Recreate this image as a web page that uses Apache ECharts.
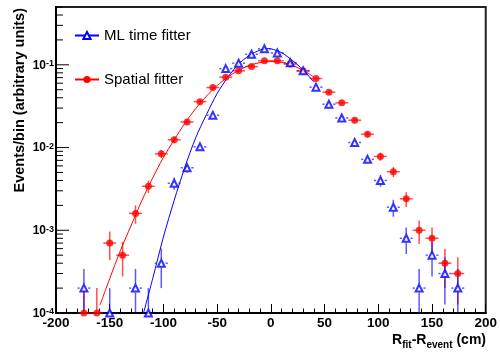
<!DOCTYPE html>
<html>
<head>
<meta charset="utf-8">
<script src="https://cdn.jsdelivr.net/npm/echarts@6/dist/echarts.min.js"></script>
<style>
html,body{margin:0;padding:0;background:#ffffff;}
#chart{width:500px;height:353px;}
</style>
</head>
<body>
<div id="chart"></div>
<script>
// ---------------- data ----------------
const binCenters = [-174,-162,-150,-138,-126,-114,-102,-90,-78,-66,-54,-42,-30,-18,-6,6,18,30,42,54,66,78,90,102,114,126,138,150,162,174];
const binHalfWidth = 6;

// Spatial fitter (red filled circles)
const spatialValues = [0.0001,0.0001,0.0007,0.0005,0.0016,0.0034,0.0084,0.0124,0.0204,0.0359,0.0531,0.0710,0.0846,0.0953,0.1117,0.1117,0.1020,0.0840,0.0683,0.0467,0.0347,0.0214,0.0145,0.0078,0.0051,0.0024,0.0010,0.0008,0.0004,0.0003];
const spatialErrors = [0.0001,0.0001,0.000265,0.000224,0.0004,0.00058,0.00092,0.00111,0.00143,0.00189,0.0023,0.00266,0.00291,0.00309,0.00334,0.00334,0.00319,0.0029,0.00261,0.00216,0.00186,0.00146,0.0012,0.00088,0.00071,0.00049,0.000316,0.000283,0.0002,0.000173];

// ML time fitter (blue open triangles); null = empty bin
const mlValues = [0.0002,null,0.0001,null,0.0002,0.0001,0.0004,0.0037,0.0057,0.0102,0.0245,0.0900,0.1047,0.1340,0.1560,0.1390,0.1060,0.0850,0.0537,0.0334,0.0228,0.0115,0.0072,0.0040,0.0019,0.0008,0.0002,0.0005,0.0003,0.0002];
const mlErrors = [0.000141,null,0.0001,null,0.000141,0.0001,0.0002,0.00061,0.00075,0.00101,0.00157,0.0030,0.00324,0.00366,0.00395,0.00373,0.00326,0.00292,0.00232,0.00183,0.00151,0.00107,0.00085,0.00063,0.00044,0.000283,0.000141,0.000224,0.000173,0.000141];

// fitted curves
const spatialFitX = [-159,-150,-140,-130,-120,-110,-100,-90,-80,-70,-60,-50,-40,-30,-20,-10,0,10,20,30,40];
const spatialFitY = [0.000125,0.00026,0.00057,0.00115,0.0023,0.0043,0.0076,0.0124,0.0197,0.0295,0.0418,0.0562,0.0712,0.0858,0.0985,0.1065,0.1095,0.107,0.0985,0.086,0.0712];
const mlFitX = [-118.5,-110,-100,-90,-80,-70,-60,-50,-40,-30,-20,-10,-4,0,10,20,30,40];
const mlFitY = [0.0001,0.00026,0.00083,0.0023,0.0058,0.0131,0.025,0.045,0.071,0.102,0.130,0.151,0.157,0.156,0.140,0.113,0.087,0.062];

// axes
const xMin = -200, xMax = 200, xInterval = 50;
const yMin = 0.0001, yMax = 0.5;
const yMajorTicks = [0.0001,0.001,0.01,0.1];
const yTickExponents = ['-4','-3','-2','-1'];
const yMinorTicks = [0.0002,0.0003,0.0004,0.0005,0.0006,0.0007,0.0008,0.0009,
                     0.002,0.003,0.004,0.005,0.006,0.007,0.008,0.009,
                     0.02,0.03,0.04,0.05,0.06,0.07,0.08,0.09,
                     0.2,0.3,0.4,0.5];

const seriesNames = ['ML time fitter','Spatial fitter'];
const yTitle = 'Events/bin (arbitrary units)';

// ---------------- build ----------------
const RED = '#ff0000', BLUE = '#0000ff';
const FONT = '"Liberation Sans", Arial, Helvetica, sans-serif';

function zip(xs, ys) { return xs.map((x, i) => [x, ys[i]]); }
function pts(vals, errs) {
  const out = [];
  binCenters.forEach((x, i) => { if (vals[i] != null) out.push([x, vals[i], errs[i]]); });
  return out;
}
const spatialPts = pts(spatialValues, spatialErrors);
const mlPts = pts(mlValues, mlErrors);

function errorBars(color, gap, width, opacity) {
  return function (params, api) {
    const x = api.value(0), y = api.value(1), e = api.value(2);
    const lo = Math.max(y - e, yMin), hi = Math.min(y + e, yMax);
    const c = api.coord([x, y]);
    const pHi = api.coord([x, hi]), pLo = api.coord([x, lo]);
    const pL = api.coord([x - binHalfWidth, y]), pR = api.coord([x + binHalfWidth, y]);
    const style = { stroke: color, lineWidth: width, opacity: opacity };
    const segs = [];
    const add = (x1, y1, x2, y2) => segs.push({ type: 'line', shape: { x1, y1, x2, y2 }, style });
    if (c[1] - gap > pHi[1]) add(c[0], c[1] - gap, c[0], pHi[1]);
    if (c[1] + gap < pLo[1]) add(c[0], c[1] + gap, c[0], pLo[1]);
    if (c[0] - gap > pL[0]) add(pL[0], c[1], c[0] - gap, c[1]);
    if (c[0] + gap < pR[0]) add(c[0] + gap, c[1], pR[0], c[1]);
    return { type: 'group', children: segs };
  };
}

function yTicks(len) {
  return function (params, api) {
    const p = api.coord([api.value(0), api.value(1)]);
    return { type: 'line', shape: { x1: p[0], y1: p[1], x2: p[0] + len, y2: p[1] },
             style: { stroke: '#000', lineWidth: 1 } };
  };
}

const chart = echarts.init(document.getElementById('chart'), null, { renderer: 'canvas' });

const option = {
  animation: false,
  backgroundColor: '#ffffff',
  textStyle: { fontFamily: FONT },
  grid: { left: 56, top: 7, width: 430, height: 306, show: true, borderColor: '#222', borderWidth: 2, containLabel: false },
  legend: {
    orient: 'vertical', left: 74, top: 28, padding: 0,
    itemWidth: 24, itemHeight: 9, itemGap: 29,
    textStyle: { fontSize: 15, color: '#000', fontFamily: FONT },
    data: seriesNames
  },
  xAxis: {
    type: 'value', min: xMin, max: xMax, interval: xInterval,
    axisLine: { onZero: false, lineStyle: { color: '#000', width: 2 } },
    axisTick: { inside: true, length: 9, lineStyle: { color: '#000', width: 1 } },
    minorTick: { show: true, splitNumber: 5, length: 4.5, lineStyle: { color: '#000', width: 1 } },
    splitLine: { show: false },
    axisLabel: { color: '#000', fontSize: 13.5, fontWeight: 'bold', margin: 3, fontFamily: FONT }
  },
  yAxis: {
    type: 'log', logBase: 10, min: yMin, max: yMax,
    axisLine: { onZero: false, lineStyle: { color: '#000', width: 2 } },
    axisTick: { show: false },
    splitLine: { show: false },
    axisLabel: {
      margin: 2,
      formatter: function (v) {
        const i = yMajorTicks.findIndex(t => Math.abs(t - v) / t < 1e-6);
        return i < 0 ? '' : '{b|10}{s|' + yTickExponents[i] + '}';
      },
      rich: {
        b: { fontSize: 12, fontWeight: 'bold', color: '#000', lineHeight: 13, verticalAlign: 'bottom', fontFamily: FONT },
        s: { fontSize: 9, fontWeight: 'bold', color: '#000', lineHeight: 9, verticalAlign: 'top', padding: [1, 0, 9, 0], fontFamily: FONT }
      }
    }
  },
  graphic: [
    { type: 'text', x: 20, y: 8, rotation: Math.PI / 2,
      style: { text: yTitle, fill: '#000', font: 'bold 14.5px ' + FONT, align: 'right', verticalAlign: 'middle' } },
    { type: 'text', x: 486, y: 340,
      style: {
        text: '{m|R}{s|fit}{m|-R}{s|event}{m| (cm)}', fill: '#000', align: 'right', verticalAlign: 'middle',
        font: 'bold 14px ' + FONT,
        rich: {
          m: { fontSize: 14, fontWeight: 'bold', lineHeight: 20, fill: '#000', fontFamily: FONT },
          s: { fontSize: 10, fontWeight: 'bold', lineHeight: 10, verticalAlign: 'bottom', fill: '#000', fontFamily: FONT }
        }
      } }
  ],
  series: [
    { name: seriesNames[0], type: 'line', data: zip(mlFitX, mlFitY), smooth: 0.3, showSymbol: false,
      symbol: 'emptyTriangle', symbolSize: 7, lineStyle: { color: BLUE, width: 1 }, itemStyle: { color: BLUE },
      z: 3, silent: true },
    { name: seriesNames[1], type: 'line', data: zip(spatialFitX, spatialFitY), smooth: 0.3, showSymbol: false,
      symbol: 'circle', symbolSize: 8, lineStyle: { color: RED, width: 1 }, itemStyle: { color: RED },
      z: 3, silent: true },
    { name: seriesNames[1], type: 'custom', data: spatialPts, renderItem: errorBars(RED, 0, 1.5, 0.7),
      encode: { x: 0, y: 1 }, clip: false, z: 2, silent: true },
    { name: seriesNames[0], type: 'custom', data: mlPts, renderItem: errorBars(BLUE, 4.3, 1.5, 0.65),
      encode: { x: 0, y: 1 }, clip: false, z: 2, silent: true },
    { name: seriesNames[1], type: 'scatter', data: spatialPts, symbol: 'circle', symbolSize: 7,
      itemStyle: { color: RED }, clip: false, z: 4, silent: true },
    { name: seriesNames[0], type: 'scatter', data: mlPts, symbol: 'emptyTriangle', symbolSize: 7,
      itemStyle: { color: BLUE, borderWidth: 1 }, clip: false, z: 4, silent: true },
    { type: 'custom', data: yMajorTicks.map(v => [xMin, v]), renderItem: yTicks(13),
      encode: { x: 0, y: 1 }, clip: false, z: 5, silent: true },
    { type: 'custom', data: yMinorTicks.map(v => [xMin, v]), renderItem: yTicks(7),
      encode: { x: 0, y: 1 }, clip: false, z: 5, silent: true }
  ]
};
chart.setOption(option);
</script>
</body>
</html>
